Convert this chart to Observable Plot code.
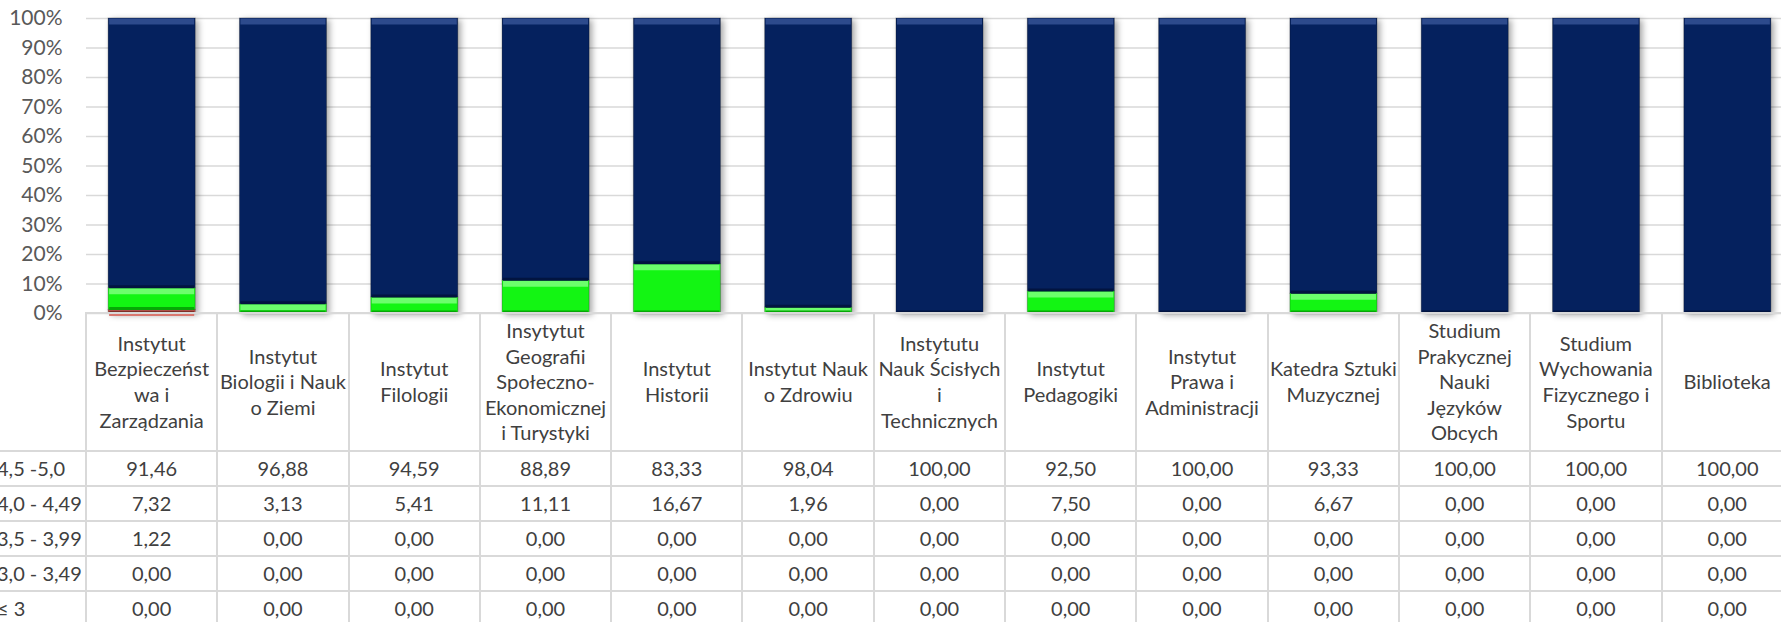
<!DOCTYPE html>
<html>
<head>
<meta charset="utf-8">
<script src="https://cdn.jsdelivr.net/npm/d3@7"></script>
<script src="https://cdn.jsdelivr.net/npm/@observablehq/plot@0.6"></script>
<style>
html, body { margin: 0; padding: 0; background: #fff; overflow: hidden; width: 1781px; height: 622px; }
#chart { position: relative; width: 1781px; height: 622px; overflow: hidden; font-family: Lato, "Noto Sans", sans-serif; }
#chart svg { position: absolute; left: 0; top: 0; }
#tbl { position: absolute; left: 0; top: 312px; border-collapse: collapse; table-layout: fixed; color: #404040; font-size: 20px; font-family: Lato, "Noto Sans", sans-serif; }
#tbl td { border: 2px solid #d9d9d9; text-align: center; vertical-align: middle; padding: 0; white-space: pre; overflow: visible; line-height: 25.6px; }
#tbl td.rowlab { text-align: left; border-left-style: hidden; text-indent: -3px; }
#tbl td.corner { border-top-style: hidden; border-left-style: hidden; }
</style>
</head>
<body>
<div id="chart"></div>
<script>
// ---- data ----
const categories = [
  "Instytut Bezpieczeństwa i Zarządzania",
  "Instytut Biologii i Nauk o Ziemi",
  "Instytut Filologii",
  "Insytytut Geografii Społeczno-Ekonomicznej i Turystyki",
  "Instytut Historii",
  "Instytut Nauk o Zdrowiu",
  "Instytutu Nauk Ścisłych i Technicznych",
  "Instytut Pedagogiki",
  "Instytut Prawa i Administracji",
  "Katedra Sztuki Muzycznej",
  "Studium Prakycznej Nauki Języków Obcych",
  "Studium Wychowania Fizycznego i Sportu",
  "Biblioteka"
];
const categoryLines = [
  "Instytut\nBezpieczeńst\nwa i\nZarządzania",
  "Instytut\nBiologii i Nauk\no Ziemi",
  "Instytut\nFilologii",
  "Insytytut\nGeografii\nSpołeczno-\nEkonomicznej\ni Turystyki",
  "Instytut\nHistorii",
  "Instytut Nauk\no Zdrowiu",
  "Instytutu\nNauk Ścisłych\ni\nTechnicznych",
  "Instytut\nPedagogiki",
  "Instytut\nPrawa i\nAdministracji",
  "Katedra Sztuki\nMuzycznej",
  "Studium\nPrakycznej\nNauki\nJęzyków\nObcych",
  "Studium\nWychowania\nFizycznego i\nSportu",
  "Biblioteka"
];
const seriesNames = ["4,5 -5,0", "4,0 - 4,49", "3,5 - 3,99", "3,0 - 3,49", "≤ 3"];
const s45_50 = [91.46, 96.88, 94.59, 88.89, 83.33, 98.04, 100.00, 92.50, 100.00, 93.33, 100.00, 100.00, 100.00];
const s40_449 = [7.32, 3.13, 5.41, 11.11, 16.67, 1.96, 0.00, 7.50, 0.00, 6.67, 0.00, 0.00, 0.00];
const s35_399 = [1.22, 0.00, 0.00, 0.00, 0.00, 0.00, 0.00, 0.00, 0.00, 0.00, 0.00, 0.00, 0.00];
const s30_349 = [0.00, 0.00, 0.00, 0.00, 0.00, 0.00, 0.00, 0.00, 0.00, 0.00, 0.00, 0.00, 0.00];
const sLe3 = [0.00, 0.00, 0.00, 0.00, 0.00, 0.00, 0.00, 0.00, 0.00, 0.00, 0.00, 0.00, 0.00];
const seriesValues = [s45_50, s40_449, s35_399, s30_349, sLe3];
const yTicks = [0, 10, 20, 30, 40, 50, 60, 70, 80, 90, 100];

// ---- styles ----
const seriesColors = ["#05215e", "#13f513", "#b84a42", "#f79646", "#8064a2"];
const topColors    = ["#2d4a8c", "#6cff6c", "#d9776f", "#fbb98a", "#a896c2"];
const bottomColors = ["#021440", "#06a806", "#7f2d27", "#b86a2c", "#56417a"];

const rows = [];
categories.forEach((c, i) => {
  seriesNames.forEach((s, j) => {
    rows.push({cat: c, series: s, value: seriesValues[j][i]});
  });
});
const stackOrder = seriesNames.slice().reverse(); // bottom → top

const colorDomain = [...seriesNames, ...seriesNames.map(s => s + "|top"), ...seriesNames.map(s => s + "|bot")];
const colorRange = [...seriesColors, ...topColors, ...bottomColors];

const plot = Plot.plot({
  width: 1781,
  height: 313,
  marginLeft: 86,
  marginRight: -12,
  marginTop: 18,
  marginBottom: 0,
  style: {fontFamily: "Lato, 'Noto Sans', sans-serif", overflow: "visible", background: "transparent"},
  x: {domain: categories, paddingInner: 0.337, paddingOuter: 0.1685, round: false, axis: null, label: null},
  y: {domain: [0, 100], label: null},
  color: {domain: colorDomain, range: colorRange},
  marks: [
    Plot.gridY(yTicks, {stroke: "#d9d9d9", strokeOpacity: 1, strokeWidth: 1.6}),
    Plot.axisY(yTicks, {tickSize: 0, tickPadding: 24, tickFormat: d => d + "%", fontSize: 21, fill: "#595959", label: null}),
    Plot.barY(rows, Plot.stackY({
      x: "cat", y: "value", z: "series", fill: "series", order: stackOrder,
      stroke: "#000", strokeOpacity: 0.25, strokeWidth: 1
    })),
    Plot.tickY(rows, Plot.stackY2({
      x: "cat", y: "value", z: "series", order: stackOrder,
      stroke: d => d.series + "|top", strokeWidth: 6, dy: 3,
      strokeOpacity: d => d.value > 0 ? 1 : 0, insetLeft: 1, insetRight: 1
    })),
    Plot.tickY(rows, Plot.stackY1({
      x: "cat", y: "value", z: "series", order: stackOrder,
      stroke: d => d.series + "|bot", strokeWidth: 3, dy: -1.5,
      strokeOpacity: d => d.value > 0 ? 1 : 0, insetLeft: 1, insetRight: 1
    }))
  ]
});

const chart = document.getElementById("chart");
chart.appendChild(plot);
d3.select(plot).selectAll('g[aria-label="bar"]').style("filter", "drop-shadow(3px 2px 3px rgba(0,0,0,0.35))");

// ---- data table below ----
const xs = plot.scale("x");
const step = xs.step ?? ((xs.range[1] - xs.range[0]) / categories.length);
const firstW = xs.range[0];
const fmt = v => d3.format(".2f")(v).replace(".", ",");

const table = document.createElement("table");
table.id = "tbl";
table.style.width = (firstW + step * categories.length) + "px";
const colgroup = document.createElement("colgroup");
const c0 = document.createElement("col"); c0.style.width = firstW + "px"; colgroup.appendChild(c0);
categories.forEach(() => { const c = document.createElement("col"); c.style.width = step + "px"; colgroup.appendChild(c); });
table.appendChild(colgroup);

const head = document.createElement("tr");
head.style.height = "138px";
const corner = document.createElement("td"); corner.className = "corner"; head.appendChild(corner);
categoryLines.forEach(t => { const td = document.createElement("td"); td.textContent = t; head.appendChild(td); });
table.appendChild(head);

seriesNames.forEach((s, j) => {
  const tr = document.createElement("tr");
  tr.style.height = "35px";
  const lab = document.createElement("td"); lab.className = "rowlab"; lab.textContent = s; tr.appendChild(lab);
  seriesValues[j].forEach(v => { const td = document.createElement("td"); td.textContent = fmt(v); tr.appendChild(td); });
  table.appendChild(tr);
});
chart.appendChild(table);
</script>
</body>
</html>
